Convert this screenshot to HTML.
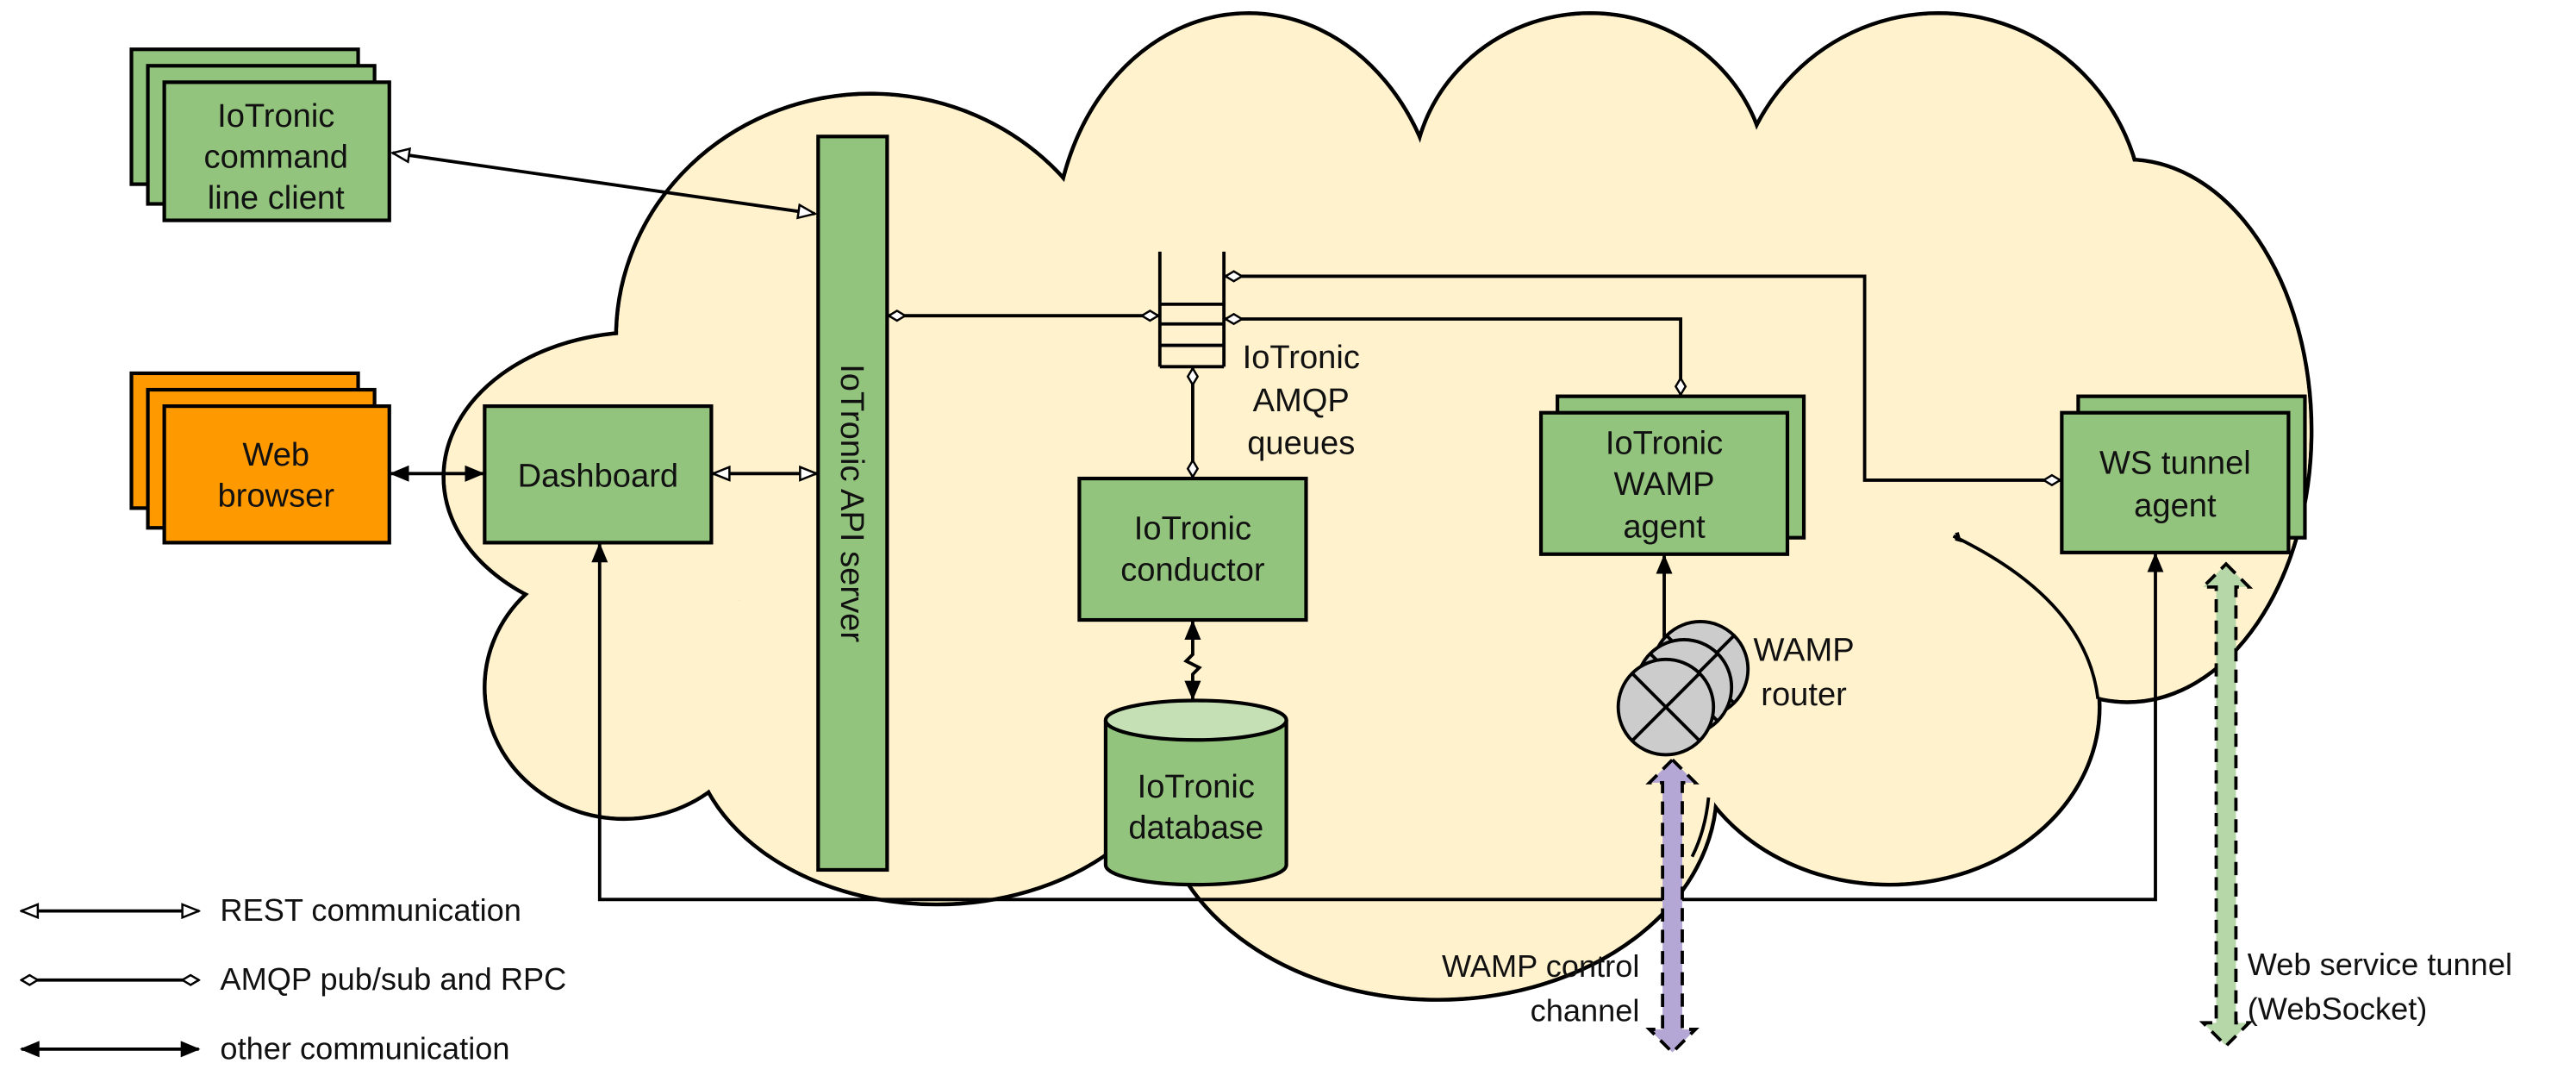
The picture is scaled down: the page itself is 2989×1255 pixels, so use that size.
<!DOCTYPE html>
<html><head><meta charset="utf-8"><style>
html,body{margin:0;padding:0;background:#fff;}
svg{display:block;}
text{font-family:"Liberation Sans",Arial,sans-serif;fill:#111;}
</style></head><body>
<svg width="2989" height="1255" viewBox="0 0 1568 658" preserveAspectRatio="none" xmlns="http://www.w3.org/2000/svg">
<defs>
<marker id="hol" viewBox="0 0 12 10" refX="11" refY="5" markerWidth="12" markerHeight="10" markerUnits="userSpaceOnUse" orient="auto-start-reverse"><path d="M1,1 L11,5 L1,9 Z" fill="#fff" stroke="#000" stroke-width="1.3"/></marker>
<marker id="fil" viewBox="0 0 12 10" refX="11" refY="5" markerWidth="12" markerHeight="10" markerUnits="userSpaceOnUse" orient="auto-start-reverse"><path d="M0,0 L12,5 L0,10 Z" fill="#000"/></marker>
<marker id="dia" viewBox="0 0 12 8" refX="11" refY="4" markerWidth="12" markerHeight="8" markerUnits="userSpaceOnUse" orient="auto-start-reverse"><path d="M1,4 L6,1 L11,4 L6,7 Z" fill="#fff" stroke="#000" stroke-width="1.3"/></marker>
</defs>

<g stroke="#000" stroke-width="2.4" fill="#fff2cc">
<ellipse cx="530" cy="205" rx="155" ry="148"/>
<ellipse cx="760" cy="150" rx="118" ry="142"/>
<ellipse cx="968" cy="112" rx="108" ry="104"/>
<ellipse cx="1180" cy="135" rx="125" ry="127"/>
<ellipse cx="1295" cy="262" rx="112" ry="165"/>
<ellipse cx="1150" cy="430" rx="128" ry="108"/>
<ellipse cx="875" cy="480" rx="170" ry="128"/>
<ellipse cx="570" cy="440" rx="150" ry="110"/>
<ellipse cx="380" cy="418" rx="85" ry="80"/>
<ellipse cx="390" cy="290" rx="120" ry="88"/>
</g>
<g fill="#fff2cc">
<ellipse cx="530" cy="205" rx="153.8" ry="146.8"/>
<ellipse cx="760" cy="150" rx="116.8" ry="140.8"/>
<ellipse cx="968" cy="112" rx="106.8" ry="102.8"/>
<ellipse cx="1180" cy="135" rx="123.8" ry="125.8"/>
<ellipse cx="1295" cy="262" rx="110.8" ry="163.8"/>
<ellipse cx="1150" cy="430" rx="126.8" ry="106.8"/>
<ellipse cx="875" cy="480" rx="168.8" ry="126.8"/>
<ellipse cx="570" cy="440" rx="148.8" ry="108.8"/>
<ellipse cx="380" cy="418" rx="83.8" ry="78.8"/>
<ellipse cx="390" cy="290" rx="118.8" ry="86.8"/>
<rect x="450" y="120" width="740" height="360"/>
<circle cx="446" cy="372" r="8"/>
<circle cx="1190" cy="318" r="6"/>
</g>
<g fill="none" stroke="#000" stroke-width="2">
<path d="M1189,326 Q1270,365 1277,425"/>
<path d="M1040,485 Q1038,505 1030,521"/>
</g>

<g stroke="#000" stroke-width="2.2">
<rect x="80" y="30" width="138" height="82" fill="#93c47d"/>
<rect x="90" y="40" width="138" height="84" fill="#93c47d"/>
<rect x="100" y="50" width="137" height="84" fill="#93c47d"/>
<rect x="80" y="227" width="138" height="82" fill="#ff9900"/>
<rect x="90" y="237" width="138" height="84" fill="#ff9900"/>
<rect x="100" y="247" width="137" height="83" fill="#ff9900"/>
<rect x="295" y="247" width="138" height="83" fill="#93c47d"/>
<rect x="498" y="83" width="42" height="446" fill="#93c47d"/>
<rect x="657" y="291" width="138" height="86" fill="#93c47d"/>
<rect x="948" y="241" width="150" height="86" fill="#93c47d"/>
<rect x="938" y="251" width="150" height="86" fill="#93c47d"/>
<rect x="1265" y="241" width="138" height="86" fill="#93c47d"/>
<rect x="1255" y="251" width="138" height="85" fill="#93c47d"/>
</g>

<g stroke="#000" stroke-width="2.2">
<path d="M673,438 L673,526 A55,12 0 0 0 783,526 L783,438" fill="#93c47d"/>
<ellipse cx="728" cy="438" rx="55" ry="12" fill="#c5e0b4"/>
</g>

<g stroke="#000" stroke-width="2" fill="none">
<line x1="706" y1="153" x2="706" y2="223"/>
<line x1="745" y1="153" x2="745" y2="223"/>
<line x1="706" y1="185" x2="745" y2="185"/>
<line x1="706" y1="197" x2="745" y2="197"/>
<line x1="706" y1="210" x2="745" y2="210"/>
<line x1="706" y1="223" x2="745" y2="223"/>
</g>

<g stroke="#000" stroke-width="2" fill="none">
<line x1="239" y1="93" x2="496" y2="130" marker-start="url(#hol)" marker-end="url(#hol)"/>
<line x1="238" y1="288" x2="294" y2="288" marker-start="url(#fil)" marker-end="url(#fil)"/>
<line x1="434" y1="288" x2="497" y2="288" marker-start="url(#hol)" marker-end="url(#hol)"/>
<line x1="541" y1="192" x2="705" y2="192" marker-start="url(#dia)" marker-end="url(#dia)"/>
<polyline points="746,168 1135,168 1135,292 1254,292" marker-start="url(#dia)" marker-end="url(#dia)"/>
<polyline points="746,194 1023,194 1023,240" marker-start="url(#dia)" marker-end="url(#dia)"/>
<line x1="726" y1="224" x2="726" y2="290" marker-start="url(#dia)" marker-end="url(#dia)"/>
<polyline points="726,378 726,398 722,402 730,406 726,410 726,425" marker-start="url(#fil)" marker-end="url(#fil)"/>
<line x1="1013" y1="338" x2="1013" y2="400" marker-start="url(#fil)"/>
<polyline points="365,331 365,547 1312,547 1312,337" marker-start="url(#fil)" marker-end="url(#fil)"/>
</g>

<g stroke="#000" stroke-width="2" fill="#cccccc">
<circle cx="1035" cy="407" r="29"/>
<line x1="1015" y1="387" x2="1055" y2="427"/><line x1="1055" y1="387" x2="1015" y2="427"/>
<circle cx="1025" cy="418" r="29"/>
<line x1="1005" y1="398" x2="1045" y2="438"/><line x1="1045" y1="398" x2="1005" y2="438"/>
<circle cx="1014" cy="430" r="29"/>
<line x1="994" y1="410" x2="1034" y2="450"/><line x1="1034" y1="410" x2="994" y2="450"/>
</g>

<path d="M1018,462 L1032,476 L1024,476 L1024,626 L1032,626 L1018,640 L1004,626 L1012,626 L1012,476 L1004,476 Z" fill="#b4a7d6" stroke="#000" stroke-width="2" stroke-dasharray="8,5"/>
<path d="M1355,343 L1369,357 L1361,357 L1361,622 L1369,622 L1355,636 L1341,622 L1349,622 L1349,357 L1341,357 Z" fill="#b6d7a8" stroke="#000" stroke-width="2" stroke-dasharray="8,5"/>

<g stroke="#000" stroke-width="2" fill="none">
<line x1="13" y1="554" x2="121" y2="554" marker-start="url(#hol)" marker-end="url(#hol)"/>
<line x1="13" y1="596" x2="121" y2="596" marker-start="url(#dia)" marker-end="url(#dia)"/>
<line x1="13" y1="638" x2="121" y2="638" marker-start="url(#fil)" marker-end="url(#fil)"/>
</g>

<g font-size="20" text-anchor="middle">
<text x="168" y="77">IoTronic</text>
<text x="168" y="102">command</text>
<text x="168" y="127">line client</text>
<text x="168" y="283">Web</text>
<text x="168" y="308">browser</text>
<text x="364" y="296">Dashboard</text>
<text x="726" y="328">IoTronic</text>
<text x="726" y="353">conductor</text>
<text x="728" y="485">IoTronic</text>
<text x="728" y="510">database</text>
<text x="1013" y="276">IoTronic</text>
<text x="1013" y="301">WAMP</text>
<text x="1013" y="327">agent</text>
<text x="1324" y="288">WS tunnel</text>
<text x="1324" y="314">agent</text>
<text x="792" y="224">IoTronic</text>
<text x="792" y="250">AMQP</text>
<text x="792" y="276">queues</text>
<text x="1098" y="402">WAMP</text>
<text x="1098" y="429">router</text>
<text transform="translate(512,306) rotate(90)">IoTronic API server</text>
</g>
<g font-size="19">
<text x="998" y="594" text-anchor="end">WAMP control</text>
<text x="998" y="621" text-anchor="end">channel</text>
<text x="1368" y="593">Web service tunnel</text>
<text x="1368" y="620">(WebSocket)</text>
<text x="134" y="560">REST communication</text>
<text x="134" y="602">AMQP pub/sub and RPC</text>
<text x="134" y="644">other communication</text>
</g>
</svg>
</body></html>
